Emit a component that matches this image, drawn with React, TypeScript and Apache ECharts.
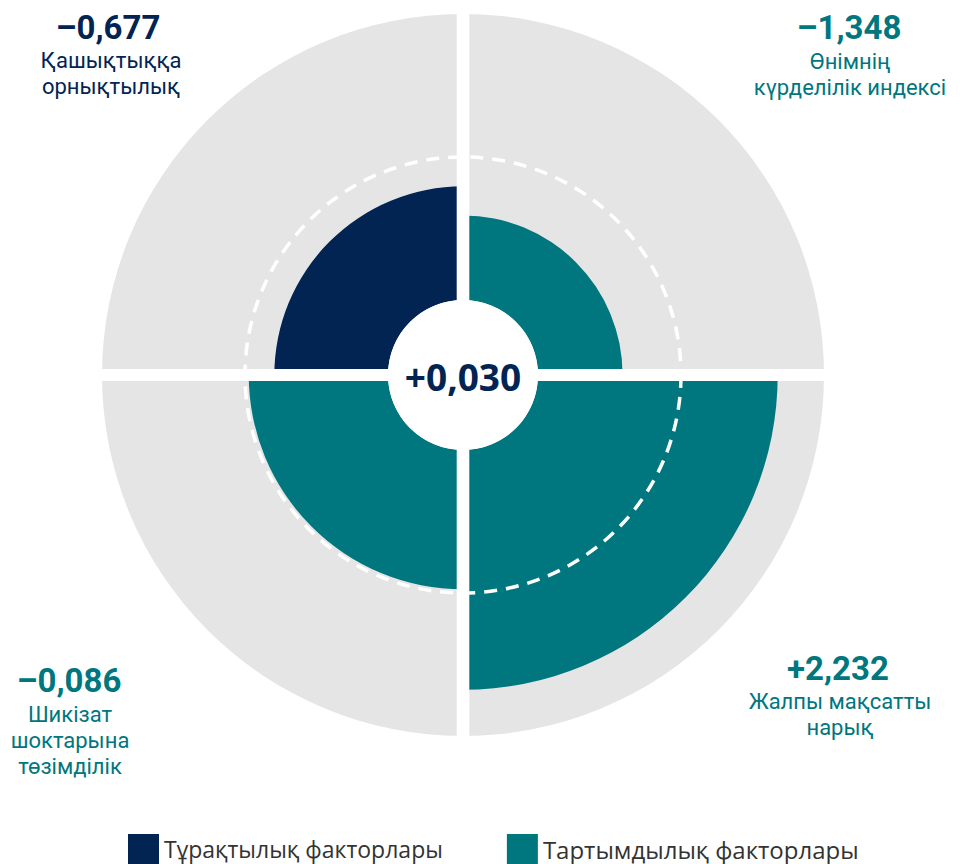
import React, { useEffect, useRef } from "react";
import * as echarts from "echarts";

// Categories in clockwise order starting at 12 o'clock
const CATEGORIES = [
  "Өнімнің\nкүрделілік индексі",
  "Жалпы мақсатты\nнарық",
  "Шикізат\nшоктарына\nтөзімділік",
  "Қашықтыққа\nорнықтылық",
];
const VALUES = [-1.348, 2.232, -0.086, -0.677];
const GROUPS = ["att", "att", "att", "stab"];
const TOTAL = 0.03;
const LEGEND_NAMES = ["Тұрақтылық факторлары", "Тартымдылық факторлары"];
const AXIS_MIN = -3.3;
const AXIS_MAX = 3.3;

const NAVY = "#022452";
const TEAL = "#00767E";
const GRAY = "#E5E5E5";
const FONT = "'Open Sans', 'Noto Sans', sans-serif";
const LABEL_FONT = "Roboto, 'Open Sans', sans-serif";

const CX = 463;
const CY = 375;
const R_IN = 75;
const R_OUT = 361;
const LINE_H = 26;

const fmt = (v: number) =>
  (v < 0 ? "–" : "+") + Math.abs(v).toFixed(3).replace(".", ",");

// label anchor positions (value text center, then first label line center)
const LABEL_POS = [
  { x: 849, y: 27, lx: 850, ly: 61 },
  { x: 838, y: 668, lx: 840, ly: 701 },
  { x: 69, y: 680, lx: 70, ly: 714 },
  { x: 108, y: 27, lx: 111, ly: 60 },
];

export default function App() {
  const ref = useRef<HTMLDivElement>(null);
  useEffect(() => {
    if (!ref.current) return;
    const chart = echarts.init(ref.current, null, { renderer: "svg" });

    const labelGraphics: any[] = [];
    CATEGORIES.forEach((c, i) => {
      const col = GROUPS[i] === "stab" ? NAVY : TEAL;
      const p = LABEL_POS[i];
      labelGraphics.push({
        type: "text",
        x: p.x,
        y: p.y,
        z: 200,
        style: {
          text: fmt(VALUES[i]),
          fill: col,
          font: `bold 33px ${LABEL_FONT}`,
          textAlign: "center",
          textVerticalAlign: "middle",
        },
      });
      c.split("\n").forEach((line, j) => {
        labelGraphics.push({
          type: "text",
          x: p.lx,
          y: p.ly + j * LINE_H,
          z: 200,
          style: {
            text: line,
            fill: col,
            font: `22px ${LABEL_FONT}`,
            textAlign: "center",
            textVerticalAlign: "middle",
          },
        });
      });
    });

    const option: any = {
      animation: false,
      backgroundColor: "#ffffff",
      polar: { center: [CX, CY], radius: [R_IN, R_OUT] },
      angleAxis: {
        type: "category",
        data: CATEGORIES,
        startAngle: 90,
        axisLine: { show: false },
        axisTick: { show: false },
        axisLabel: { show: false },
        splitLine: { show: false },
      },
      radiusAxis: {
        type: "value",
        min: AXIS_MIN,
        max: AXIS_MAX,
        interval: 3.3,
        startValue: AXIS_MIN,
        z: 10,
        axisLine: { show: false },
        axisTick: { show: false },
        axisLabel: { show: false },
        splitLine: {
          show: true,
          lineStyle: {
            color: ["rgba(0,0,0,0)", "#ffffff", "rgba(0,0,0,0)"],
            width: 3.5,
            type: [13, 9],
          },
        },
      },
      legend: {
        data: [
          { name: LEGEND_NAMES[0], textStyle: { fontSize: 23, lineHeight: 26 } },
          { name: LEGEND_NAMES[1], textStyle: { fontSize: 24, lineHeight: 26 } },
        ],
        left: 123,
        top: 829,
        icon: "rect",
        itemWidth: 31,
        itemHeight: 30,
        itemGap: 64,
        selectedMode: false,
        textStyle: { color: "#333333", fontFamily: FONT },
      },
      series: [
        {
          type: "bar",
          name: "bg",
          coordinateSystem: "polar",
          data: CATEGORIES.map(() => AXIS_MAX),
          itemStyle: { color: GRAY },
          barGap: "-100%",
          barCategoryGap: "0%",
          z: 1,
          silent: true,
        },
        {
          type: "bar",
          name: LEGEND_NAMES[0],
          coordinateSystem: "polar",
          data: VALUES.map((v, i) => (GROUPS[i] === "stab" ? v : "-")),
          itemStyle: { color: NAVY },
          barGap: "-100%",
          barCategoryGap: "0%",
          z: 2,
        },
        {
          type: "bar",
          name: LEGEND_NAMES[1],
          coordinateSystem: "polar",
          data: VALUES.map((v, i) => (GROUPS[i] === "att" ? v : "-")),
          itemStyle: { color: TEAL },
          barGap: "-100%",
          barCategoryGap: "0%",
          z: 2,
        },
      ],
      graphic: [
        {
          type: "rect",
          z: 100,
          shape: { x: CX - 6.3, y: CY - R_OUT - 10, width: 12.6, height: 2 * R_OUT + 20 },
          style: { fill: "#ffffff" },
        },
        {
          type: "rect",
          z: 100,
          shape: { x: CX - R_OUT - 10, y: CY - 6, width: 2 * R_OUT + 20, height: 12 },
          style: { fill: "#ffffff" },
        },
        {
          type: "circle",
          z: 101,
          shape: { cx: CX, cy: CY, r: R_IN },
          style: { fill: "#ffffff" },
        },
        {
          type: "text",
          x: CX,
          y: CY + 1,
          z: 200,
          style: {
            text: fmt(TOTAL),
            fill: NAVY,
            font: `bold 37px ${FONT}`,
            textAlign: "center",
            textVerticalAlign: "middle",
          },
        },
        ...labelGraphics,
      ],
    };
    chart.setOption(option);
    return () => chart.dispose();
  }, []);
  return (
    <div
      ref={ref}
      style={{ position: "fixed", left: 0, top: 0, width: 961, height: 864 }}
    />
  );
}
